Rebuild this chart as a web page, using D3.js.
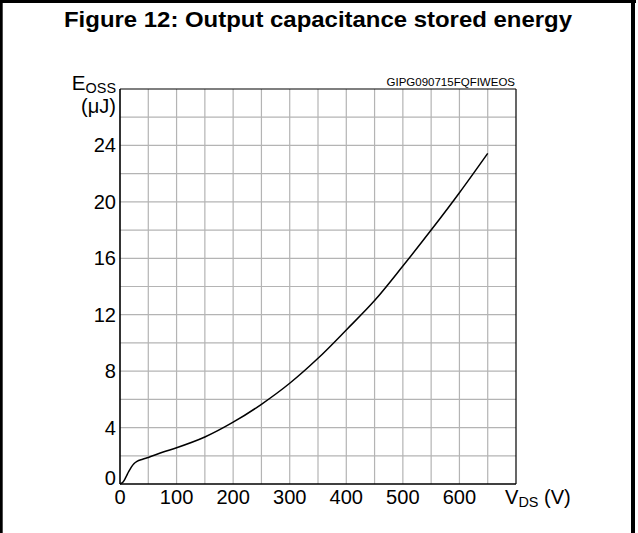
<!DOCTYPE html>
<html><head><meta charset="utf-8">
<script src="https://cdn.jsdelivr.net/npm/d3@7/dist/d3.min.js"></script>
<style>
body{margin:0;background:#fff;}
svg text{font-family:"Liberation Sans",Arial,Helvetica,sans-serif;fill:#000;}
</style></head>
<body><svg id="c" width="638" height="533"></svg>
<script>
// Data
const vds = [0,5,10,15,20,25,30,40,50,75,100,150,200,250,300,350,400,450,500,550,600,650];
const eoss = [0,0.12,0.45,0.85,1.2,1.45,1.6,1.75,1.88,2.25,2.57,3.33,4.38,5.65,7.14,8.91,10.92,13.0,15.45,18.0,20.65,23.44];
const xTicks = [0,100,200,300,400,500,600];
const yTicks = [0,4,8,12,16,20,24];
const title = "Figure 12: Output capacitance stored energy";
const code = "GIPG090715FQFIWEOS";

const svg = d3.select("#c");
const L=120, R=516, T=89, B=484;
const x = d3.scaleLinear().domain([0,700]).range([L,R]);
const y = d3.scaleLinear().domain([0,28]).range([B,T]);
const SX = 1.03;

// outer frame (open at bottom)
svg.append("line").attr("x1",1.35).attr("x2",1.35).attr("y1",0).attr("y2",533).attr("stroke","#000").attr("stroke-width",2.7);
svg.append("line").attr("x1",0).attr("x2",636).attr("y1",1.5).attr("y2",1.5).attr("stroke","#000").attr("stroke-width",3);
svg.append("line").attr("x1",633).attr("x2",633).attr("y1",0).attr("y2",533).attr("stroke","#000").attr("stroke-width",4);

svg.append("text").attr("x",64).attr("y",27)
  .attr("font-size",21.5).attr("font-weight","bold")
  .attr("textLength",508).attr("lengthAdjust","spacingAndGlyphs").text(title);

// grid
const g = svg.append("g");
g.selectAll("line.v").data(d3.range(50,700,50)).join("line")
  .attr("x1",d=>x(d)).attr("x2",d=>x(d)).attr("y1",T).attr("y2",B)
  .attr("stroke","#b4b4b4").attr("stroke-width",1.2);
g.selectAll("line.h").data(d3.range(2,28,2)).join("line")
  .attr("y1",d=>y(d)).attr("y2",d=>y(d)).attr("x1",L).attr("x2",R)
  .attr("stroke","#b4b4b4").attr("stroke-width",1.2);

// plot frame
svg.append("line").attr("x1",L).attr("x2",R).attr("y1",T).attr("y2",T).attr("stroke","#000").attr("stroke-width",1.2);
svg.append("line").attr("x1",R).attr("x2",R).attr("y1",T).attr("y2",B).attr("stroke","#000").attr("stroke-width",1.2);
svg.append("line").attr("x1",L).attr("x2",L).attr("y1",T).attr("y2",B).attr("stroke","#000").attr("stroke-width",1.6);
svg.append("line").attr("x1",L).attr("x2",R).attr("y1",B).attr("y2",B).attr("stroke","#000").attr("stroke-width",1.6);

// tick labels
svg.selectAll("text.yt").data(yTicks).join("text")
  .attr("transform",d=>`translate(116,${d===0? B+1 : y(d)+7}) scale(${SX},1)`)
  .attr("text-anchor","end").attr("font-size",19.5).text(d=>d);
svg.selectAll("text.xt").data(xTicks).join("text")
  .attr("transform",d=>`translate(${x(d)},503.5) scale(${SX},1)`)
  .attr("text-anchor","middle").attr("font-size",19.5).text(d=>d);

// axis labels
const yl = svg.append("text").attr("transform",`translate(116,90) scale(${SX},1)`).attr("text-anchor","end").attr("font-size",20);
yl.append("tspan").text("E");
yl.append("tspan").attr("font-size",14).attr("dy",3).text("OSS");
svg.append("text").attr("transform",`translate(116,113) scale(${SX},1)`).attr("text-anchor","end").attr("font-size",19.5).text("(μJ)");
const xl = svg.append("text").attr("transform",`translate(505,503.5) scale(${SX},1)`).attr("font-size",19.5);
xl.append("tspan").text("V");
xl.append("tspan").attr("font-size",14).attr("dy",3).text("DS");
xl.append("tspan").attr("dy",-3).text(" (V)");

svg.append("text").attr("x",515).attr("y",86).attr("text-anchor","end").attr("font-size",11.5).text(code);

// curve
const line = d3.line().x((d,i)=>x(vds[i])).y(d=>y(d)).curve(d3.curveMonotoneX);
svg.append("path").attr("d",line(eoss)).attr("fill","none").attr("stroke","#000").attr("stroke-width",1.5);
</script></body></html>
